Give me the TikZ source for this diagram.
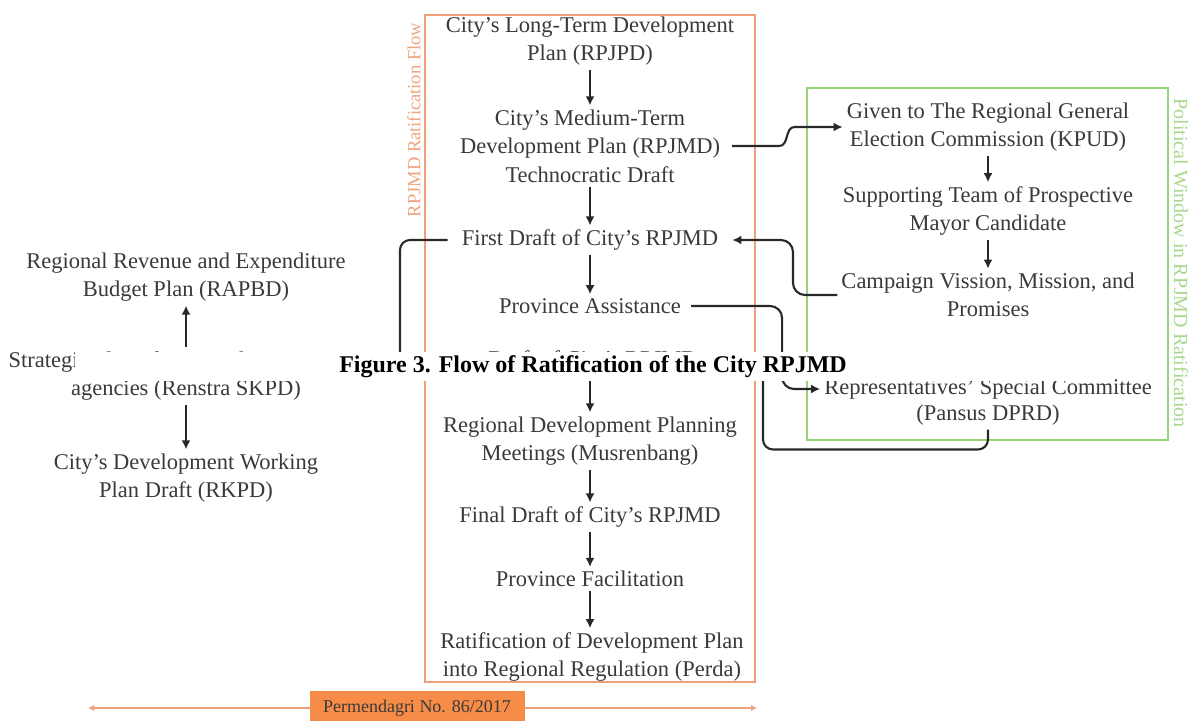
\documentclass[tikz,border=0pt]{standalone}
\usepackage{fontspec}
\setmainfont{Liberation Serif}
\usetikzlibrary{arrows.meta,calc}
\definecolor{txtgray}{RGB}{58,58,58}
\definecolor{linegray}{RGB}{40,40,40}
\definecolor{boxorange}{RGB}{240,160,120}
\definecolor{labelorange}{RGB}{238,165,125}
\definecolor{boxgreen}{RGB}{150,212,120}
\definecolor{labelgreen}{RGB}{168,216,142}
\definecolor{barorange}{RGB}{246,140,72}
\begin{document}
\begin{tikzpicture}[x=1pt,y=-1pt,
  txt/.style={font=\fontsize{22.5}{28.5}\selectfont, text=txtgray, align=center, inner sep=4pt},
  txtD/.style={font=\fontsize{22.5}{26}\selectfont, text=txtgray, align=center, inner sep=4pt},
  arr/.style={draw=linegray, line width=2.1pt, -{Latex[length=9pt,width=9pt]}},
  frame/.style={line width=2pt},
  vlabel/.style={inner sep=0pt},
  barline/.style={draw=boxorange, line width=1.5pt, {Latex[length=6pt,width=6pt]}-{Latex[length=6pt,width=6pt]}}
]
\useasboundingbox (0,0) rectangle (1190,720);
\fill[white] (0,0) rectangle (1190,720);

% frames
\draw[frame, draw=boxorange] (425,15) rectangle (755,682);
\draw[frame, draw=boxgreen] (807,88) rectangle (1168,440);
\node[vlabel, font=\fontsize{18.5}{20}\selectfont, text=labelorange, rotate=90] (lblO) at (414,120) {RPJMD Ratification Flow};
\node[vlabel, font=\fontsize{20}{22}\selectfont, text=labelgreen, rotate=-90] (lblG) at (1181,263) {Political Window in RPJMD Ratification};

% central column
\node[txt] (N1) at (590,41) {City's Long-Term Development\\Plan (RPJPD)};
\node[txt] (N2) at (590,146) {City's Medium-Term\\Development Plan (RPJMD)\\Technocratic Draft};
\node[txt] (N3) at (590,240) {First Draft of City's RPJMD};
\node[txt] (N4) at (590,306) {Province Assistance};
\node[txt] (N5) at (593,361) {Draft of City's RPJMD};
\node[txt] (N6) at (590,441) {Regional Development Planning\\Meetings (Musrenbang)};
\node[txt] (N7) at (590,517) {Final Draft of City's RPJMD};
\node[txt] (N8) at (590,579) {Province Facilitation};
\node[txt] (N9) at (592,657) {Ratification of Development Plan\\into Regional Regulation (Perda)};

% right column
\node[txt] (A) at (988,127) {Given to The Regional General\\Election Commission (KPUD)};
\node[txt] (B) at (988,211) {Supporting Team of  Prospective\\Mayor Candidate};
\node[txt] (C) at (988,295) {Campaign Vission, Mission, and\\Promises};
\node[txtD] (D) at (988,389) {The Regional House of\\Representatives' Special Committee\\(Pansus DPRD)};

% left column
\node[txt] (L1) at (186,277) {Regional Revenue and Expenditure\\Budget Plan (RAPBD)};
\node[txt] (L2) at (186,376) {Strategic Plan of Regional Government\\agencies (Renstra SKPD)};
\node[txt] (L3) at (186,478) {City's Development Working\\Plan Draft (RKPD)};

% vertical arrows
\draw[arr] (N1.south) -- (N1.south |- N2.north);
\draw[arr] (N2.south) -- (N2.south |- N3.north);
\draw[arr] (N3.south) -- (N3.south |- N4.north);
\draw[arr] (N6.north |- N5.south) -- (N6.north);
\draw[arr] (N6.south) -- (N6.south |- N7.north);
\draw[arr] (N7.south) -- (N7.south |- N8.north);
\draw[arr] (N8.south) -- (N8.south |- N9.north);
\draw[arr] (A.south) -- (A.south |- B.north);
\draw[arr] (B.south) -- (B.south |- C.north);
\draw[arr] (L2.north) -- (L2.north |- L1.south);
\draw[arr] (L2.south) -- (L2.south |- L3.north);

% connectors
\coordinate (c1) at (793,0);
\coordinate (c2) at (763,0);
\coordinate (c3) at (400,0);
\draw[arr, shorten <=8pt] (N2.east) -- ++(55,0) .. controls +(10,0) and +(-10,0) .. ([xshift=-48pt]A.west) -- (A.west);
\draw[arr, rounded corners=12pt, shorten >=10pt] (C.west) -| (c1 |- N3.east) -- (N3.east);
\draw[arr, rounded corners=12pt, shorten <=6pt] (N4.east) -| ([xshift=-38pt]D.west) -- (D.west);
\draw[arr, rounded corners=10pt] (D.south) -- ++(0,20) -| (c2 |- N5.east) -- (N5.east);
\draw[arr, rounded corners=10pt, shorten <=10pt] (N3.west) -| (c3 |- L2.east) -- (L2.east);

% bottom bar
\coordinate (barL) at (88,708);
\coordinate (barR) at (757,708);
\draw[barline] (barL) -- (barR);
\node[fill=barorange, minimum width=215pt, minimum height=34pt, inner sep=0pt,
      font=\fontsize{18}{18}\selectfont, text=txtgray] (bar) at (417,708) {Permendagri No. 86/2017};

% caption overlay
\node[fill=white, minimum width=1036pt, minimum height=29pt, inner sep=0pt,
      font=\bfseries\fontsize{24}{24}\selectfont, text=black] (cap) at (593,366.5)
      {Figure 3. Flow of Ratification of the City RPJMD};
\end{tikzpicture}
\end{document}
